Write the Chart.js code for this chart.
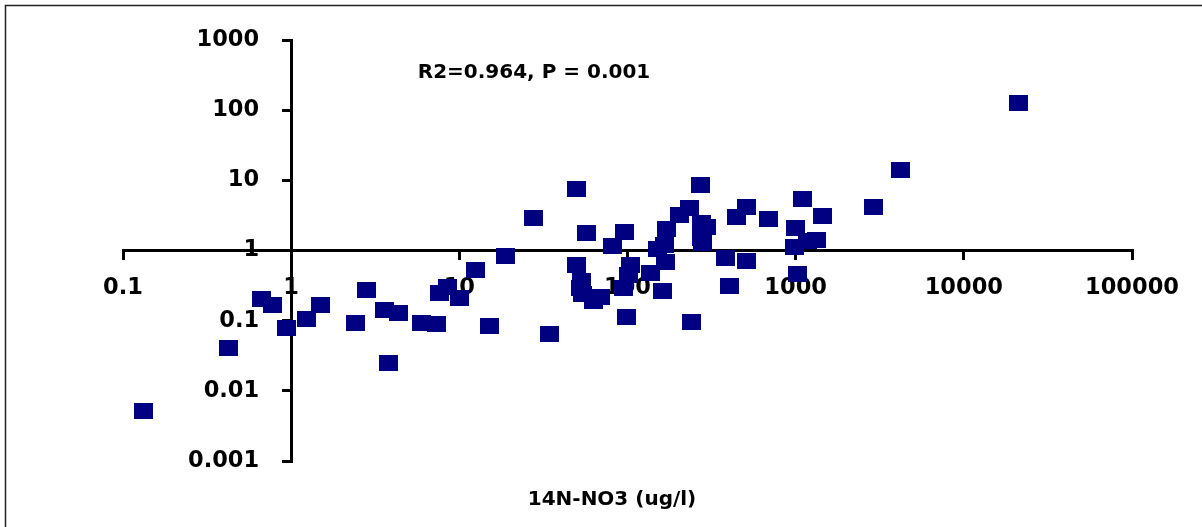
<!DOCTYPE html>
<html><head><meta charset="utf-8">
<script src="https://cdn.jsdelivr.net/npm/chart.js@4"></script>
<style>html,body{margin:0;padding:0;background:#fff;}canvas{display:block;}</style>
</head><body>
<canvas id="c" width="1202" height="527"></canvas>
<script>
const xValues = [0.133, 0.425, 0.668, 0.771, 0.94, 1.23, 1.49, 2.42, 2.81, 3.6, 3.8, 4.33, 5.97, 7.33, 7.6, 8.52, 9.97, 12.4, 15.2, 18.8, 27.7, 34.4, 49.5, 49.5, 57.1, 53, 52.3, 53.7, 62.4, 68.7, 81, 96.1, 94.2, 98.8, 104, 101.6, 137, 151, 162, 167, 171, 168.5, 204, 234, 272, 274, 295, 276, 281, 240, 380, 405, 445, 511, 511, 690, 998, 985, 1026, 1099, 1169, 1331, 1445, 2904, 4176, 21150];
const yValues = [0.00516, 0.0408, 0.206, 0.167, 0.078, 0.106, 0.167, 0.0926, 0.274, 0.142, 0.0249, 0.129, 0.094, 0.0897, 0.249, 0.297, 0.21, 0.527, 0.0845, 0.835, 2.9, 0.0652, 7.52, 0.621, 1.78, 0.368, 0.292, 0.24, 0.191, 0.217, 1.16, 1.84, 0.292, 0.113, 0.621, 0.448, 0.478, 1.05, 0.265, 1.21, 2.03, 0.686, 3.2, 4.03, 8.67, 2.47, 2.13, 1.51, 1.26, 0.0957, 0.782, 0.312, 3.0, 4.17, 0.708, 2.81, 2.09, 1.12, 0.463, 5.42, 1.37, 1.41, 3.1, 4.17, 14.0, 126.5];
const xTickValues = [0.1, 1, 10, 100, 1000, 10000, 100000];
const xTickLabels = ['0.1', '1', '10', '100', '1000', '10000', '100000'];
const yTickValues = [0.001, 0.01, 0.1, 1, 10, 100, 1000];
const yTickLabels = ['0.001', '0.01', '0.1', '1', '10', '100', '1000'];
const xTitle = '14N-NO3 (ug/l)';
const statsText = 'R2=0.964, P = 0.001';

const FONT = 'DejaVu Sans';
const Y_LABEL_GAP = 32;
const marker = document.createElement('canvas');
marker.width = 19; marker.height = 16;
(function(){ const m = marker.getContext('2d'); m.fillStyle = '#000080'; m.fillRect(0, 0, 19, 16); })();

const points = xValues.map((x, i) => ({x: x, y: yValues[i]}));

const decor = {
  id: 'decor',
  beforeDraw(chart) {
    const ctx = chart.ctx;
    ctx.save();
    ctx.fillStyle = '#fff';
    ctx.fillRect(0, 0, chart.width, chart.height);
    ctx.strokeStyle = '#222';
    ctx.lineWidth = 1.5;
    ctx.beginPath();
    ctx.moveTo(5.5, chart.height + 2);
    ctx.lineTo(5.5, 5.5);
    ctx.lineTo(chart.width + 2, 5.5);
    ctx.stroke();
    ctx.restore();
    // move the y-axis tick labels left of the tick marks
    const items = chart.scales.y.getLabelItems();
    items.forEach(it => {
      if (!it._shifted) { it.options.translation[0] -= Y_LABEL_GAP; it._shifted = true; }
    });
  },
  afterDraw(chart) {
    const ctx = chart.ctx;
    ctx.save();
    ctx.fillStyle = '#000';
    ctx.textAlign = 'center';
    ctx.textBaseline = 'alphabetic';
    ctx.font = 'bold 20px "' + FONT + '"';
    ctx.fillText(statsText, 534, 77.5);
    ctx.fillText(xTitle, 612, 504.5);
    ctx.restore();
  }
};

new Chart(document.getElementById('c'), {
  type: 'scatter',
  data: { datasets: [{ data: points, pointStyle: marker, pointRadius: 10, pointHoverRadius: 10, backgroundColor: '#000080', borderColor: '#000080' }] },
  options: {
    responsive: false,
    animation: false,
    events: [],
    devicePixelRatio: 1,
    layout: { padding: { left: 123, right: 70, top: 40, bottom: 66 } },
    plugins: { legend: { display: false }, tooltip: { enabled: false } },
    scales: {
      x: {
        type: 'logarithmic', min: 0.1, max: 100000,
        position: { y: 1 },
        afterBuildTicks: (s) => { s.ticks = xTickValues.map(v => ({ value: v })); },
        afterFit: (s) => { s.height = 0; },
        ticks: {
          autoSkip: false, maxRotation: 0, minRotation: 0, color: '#000', padding: 16,
          font: { family: FONT, weight: 'bold', size: 22.5 },
          callback: (v) => xTickLabels[xTickValues.indexOf(v)]
        },
        grid: { display: true, drawOnChartArea: false, drawTicks: true, tickLength: 8, lineWidth: 3, color: '#000' },
        border: { display: true, color: '#000', width: 3 }
      },
      y: {
        type: 'logarithmic', min: 0.001, max: 1000,
        position: { x: 1 },
        afterBuildTicks: (s) => { s.ticks = yTickValues.map(v => ({ value: v })); },
        afterFit: (s) => { s.width = 0; },
        ticks: {
          autoSkip: false, color: '#000', padding: 0,
          font: { family: FONT, weight: 'bold', size: 22.5 },
          callback: (v) => yTickLabels[yTickValues.indexOf(v)]
        },
        grid: { display: true, drawOnChartArea: false, drawTicks: true, tickLength: 8, lineWidth: 3, color: '#000' },
        border: { display: true, color: '#000', width: 3 }
      }
    }
  },
  plugins: [decor]
});
</script>
</body></html>
